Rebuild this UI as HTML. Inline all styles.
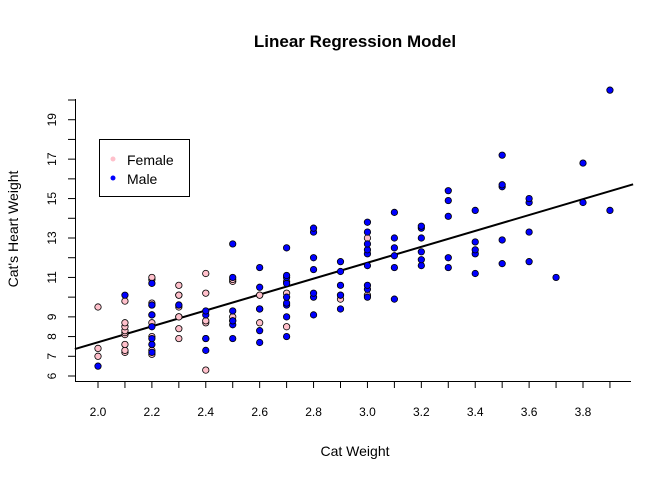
<!DOCTYPE html>
<html><head><meta charset="utf-8"><style>
body{margin:0;background:#fff}
svg{display:block;font-family:"Liberation Sans",Arial,sans-serif}
</style></head><body>
<svg id="c" width="672" height="480">
<text x="355" y="47" text-anchor="middle" font-size="17" font-weight="bold">Linear Regression Model</text>
<text x="355" y="456" text-anchor="middle" font-size="14">Cat Weight</text>
<text transform="translate(18,229) rotate(-90)" text-anchor="middle" font-size="14">Cat's Heart Weight</text>
<g id="axes"></g><g id="line"></g><g id="pts"></g>
<g>
<rect x="99.5" y="139.5" width="90" height="57" fill="#fff" stroke="#000"/>
<circle cx="113" cy="159" r="2.5" fill="pink"/><text x="127" y="165" font-size="14">Female</text>
<circle cx="113" cy="178" r="2.5" fill="blue"/><text x="127" y="184" font-size="14">Male</text>
</g>
</svg>
<script>
const femaleBwt=[2.0,2.0,2.0,2.1,2.1,2.1,2.1,2.1,2.1,2.1,2.1,2.1,2.2,2.2,2.2,2.2,2.2,2.2,2.2,2.3,2.3,2.3,2.3,2.3,2.3,2.3,2.3,2.3,2.4,2.4,2.4,2.4,2.4,2.5,2.5,2.5,2.6,2.6,2.6,2.7,2.7,2.7,2.9,2.9,3.0,3.0,2.2];
const femaleHwt=[7.0,7.4,9.5,7.2,7.3,7.6,8.1,8.2,8.3,8.5,8.7,9.8,7.1,8.7,9.1,9.7,10.9,11.0,7.3,7.9,8.4,9.0,9.0,9.5,9.6,10.1,10.1,10.6,11.2,6.3,8.7,8.8,10.2,9.0,10.8,10.9,8.7,10.1,10.1,8.5,10.2,10.8,9.9,10.1,10.1,13.0,8.0];
const maleBwt=[2.0,2.1,2.2,2.2,2.2,2.2,2.2,2.2,2.2,2.2,2.3,2.4,2.4,2.4,2.4,2.4,2.5,2.5,2.5,2.5,2.5,2.5,2.5,2.6,2.6,2.6,2.6,2.6,2.6,2.7,2.7,2.7,2.7,2.7,2.7,2.7,2.7,2.7,2.8,2.8,2.8,2.8,2.8,2.8,2.8,2.9,2.9,2.9,2.9,2.9,3.0,3.0,3.0,3.0,3.0,3.0,3.0,3.0,3.0,3.1,3.1,3.1,3.1,3.1,3.1,3.2,3.2,3.2,3.2,3.2,3.2,3.3,3.3,3.3,3.3,3.3,3.4,3.4,3.4,3.4,3.4,3.5,3.5,3.5,3.5,3.5,3.6,3.6,3.6,3.6,3.7,3.8,3.8,3.9,3.9];
const maleHwt=[6.5,10.1,7.2,7.6,7.9,8.5,9.1,9.6,9.6,10.7,9.6,7.3,7.9,7.9,9.1,9.3,7.9,8.6,8.8,8.8,9.3,11.0,12.7,7.7,8.3,9.4,9.4,10.5,11.5,8.0,9.0,9.6,9.7,10.0,10.7,11.0,11.1,12.5,9.1,10.0,10.2,11.4,12.0,13.3,13.5,9.4,10.1,10.6,11.3,11.8,10.0,10.4,10.6,11.6,12.2,12.4,12.7,13.3,13.8,9.9,11.5,12.1,12.5,13.0,14.3,11.6,11.9,12.3,13.0,13.5,13.6,11.5,12.0,14.1,14.9,15.4,11.2,12.2,12.4,12.8,14.4,11.7,12.9,15.6,15.7,17.2,11.8,13.3,14.8,15.0,11.0,14.8,16.8,14.4,20.5];
const xTicks=[2.0,2.2,2.4,2.6,2.8,3.0,3.2,3.4,3.6,3.8];
const xMinor=[2.1,2.3,2.5,2.7,2.9,3.1,3.3,3.5,3.7,3.9];
const yTicks=[6,7,8,9,10,11,12,13,14,15,16,17,18,19,20];
const yLabels=[6,7,8,9,11,13,15,17,19];
const coef=[-0.3567,4.0341];
const NS='http://www.w3.org/2000/svg';
const X=v=>98+(v-2.0)*(485/1.8), Y=v=>376-(v-6)*(276/14);
function mk(p,t,a){const e=document.createElementNS(NS,t);for(const k in a)e.setAttribute(k,a[k]);p.appendChild(e);return e;}
const ax=document.getElementById('axes');
let e=mk(ax,'line',{x1:75,y1:381.5,x2:631,y2:381.5,stroke:'#000'});

e=mk(ax,'line',{x1:75.5,y1:99,x2:75.5,y2:382,stroke:'#000'});

xTicks.concat(xMinor).forEach(v=>{mk(ax,'line',{x1:X(v),y1:381,x2:X(v),y2:388,stroke:'#000'});});
xTicks.forEach(v=>{const t=mk(ax,'text',{x:X(v),y:416,'text-anchor':'middle','font-size':12});t.textContent=v.toFixed(1);
});
yTicks.forEach(v=>{mk(ax,'line',{x1:68,y1:Y(v),x2:75,y2:Y(v),stroke:'#000'});});
yLabels.forEach(v=>{const t=mk(ax,'text',{transform:`translate(56,${Y(v)}) rotate(-90)`,'text-anchor':'middle','font-size':12});t.textContent=v;
});
const lg=document.getElementById('line');
const x0=1.914,x1=3.986;
e=mk(lg,'line',{x1:X(x0),y1:Y(coef[0]+coef[1]*x0),x2:X(x1),y2:Y(coef[0]+coef[1]*x1),stroke:'#000','stroke-width':2});

const pg=document.getElementById('pts');
femaleBwt.forEach((b,i)=>{const c=mk(pg,'circle',{cx:X(b),cy:Y(femaleHwt[i]),r:3.2,fill:'pink',stroke:'#000','stroke-width':0.8});
});
maleBwt.forEach((b,i)=>{const c=mk(pg,'circle',{cx:X(b),cy:Y(maleHwt[i]),r:3.2,fill:'blue',stroke:'#000','stroke-width':0.8});
});
</script>
</body></html>
